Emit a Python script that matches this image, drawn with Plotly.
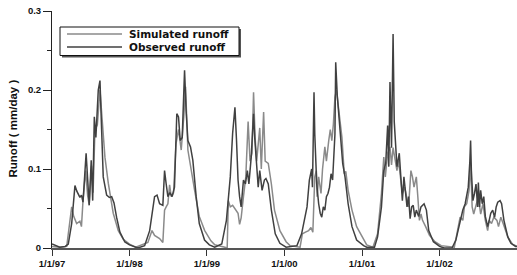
import numpy as np
import pandas as pd
import plotly.graph_objects as go

# ---- data (time as years since 1/1/97, runoff in mm/day) ----
obs_t = [0.0, 0.04, 0.1, 0.17, 0.21, 0.254, 0.296, 0.32, 0.34, 0.36, 0.38, 0.40, 0.44, 0.455, 0.48,
         0.506, 0.525, 0.546, 0.566, 0.597, 0.619, 0.64, 0.661, 0.705, 0.74, 0.77, 0.8, 0.833, 0.876,
         0.94, 1.0,
         1.108, 1.195, 1.26, 1.323, 1.355, 1.388, 1.43, 1.452, 1.473, 1.495, 1.52, 1.55, 1.58, 1.61,
         1.632, 1.654, 1.68, 1.71, 1.73, 1.753, 1.787, 1.817, 1.86, 1.9, 1.968, 2.03,
         2.1, 2.19, 2.25, 2.3, 2.33, 2.36, 2.38, 2.4, 2.42, 2.44, 2.47, 2.495, 2.52, 2.54, 2.57, 2.6,
         2.615, 2.64, 2.66, 2.68, 2.71, 2.74, 2.76, 2.79, 2.83, 2.88, 2.94, 3.02,
         3.16, 3.22, 3.29, 3.32, 3.35, 3.36, 3.38, 3.39, 3.415, 3.44, 3.46, 3.48, 3.5, 3.52, 3.54,
         3.56, 3.58, 3.6, 3.62, 3.65, 3.66, 3.68, 3.7, 3.72, 3.75, 3.78, 3.82, 3.87, 3.93, 4.02,
         4.06, 4.16, 4.2, 4.25, 4.28, 4.305, 4.33, 4.345, 4.36, 4.38, 4.4, 4.415, 4.43, 4.45, 4.48,
         4.5, 4.52, 4.54, 4.56, 4.58, 4.6, 4.62, 4.64, 4.66, 4.68, 4.70, 4.73, 4.76, 4.8, 4.83,
         4.86, 4.92, 5.0,
         5.06, 5.16, 5.21, 5.25, 5.3, 5.33, 5.35, 5.37, 5.39, 5.40, 5.41, 5.43, 5.45, 5.47, 5.49,
         5.5, 5.515, 5.53, 5.55, 5.57, 5.59, 5.62, 5.64, 5.66, 5.685, 5.71, 5.73, 5.75, 5.78, 5.8,
         5.83, 5.88, 5.92, 5.98, 6.0]
obs_v = [0.005, 0.003, 0.001, 0.002, 0.005, 0.031, 0.079, 0.072, 0.067, 0.064, 0.067, 0.058, 0.12, 0.098, 0.054,
         0.111, 0.06, 0.166, 0.14, 0.2, 0.212, 0.15, 0.09, 0.067, 0.064, 0.065, 0.057, 0.039, 0.02,
         0.0076, 0.004,
         0.0, 0.003, 0.022, 0.065, 0.067, 0.056, 0.054, 0.098, 0.081, 0.065, 0.07, 0.065, 0.077, 0.17,
         0.166, 0.136, 0.14, 0.225, 0.174, 0.136, 0.128, 0.111, 0.065, 0.031, 0.01, 0.004,
         0.001, 0.005, 0.035, 0.09, 0.145, 0.178, 0.137, 0.086, 0.065, 0.052, 0.086, 0.081, 0.098, 0.081, 0.115, 0.17,
         0.14, 0.1, 0.077, 0.098, 0.073, 0.086, 0.088, 0.081, 0.048, 0.018, 0.006, 0.001,
         0.003, 0.018, 0.052, 0.086, 0.1, 0.077, 0.197, 0.144, 0.081, 0.056, 0.044, 0.039, 0.052, 0.048, 0.065,
         0.069, 0.077, 0.094, 0.086, 0.144, 0.235, 0.193, 0.165, 0.14, 0.107, 0.09, 0.056, 0.027, 0.01, 0.003,
         0.001, 0.001, 0.014, 0.052, 0.098, 0.107, 0.155, 0.103, 0.21, 0.127, 0.271, 0.16, 0.127, 0.103, 0.12,
         0.09, 0.06, 0.09, 0.068, 0.052, 0.065, 0.037, 0.052, 0.054, 0.039, 0.048, 0.04, 0.052, 0.056, 0.048,
         0.022, 0.008, 0.002,
         0.0, 0.0, 0.01, 0.027, 0.048, 0.056, 0.065, 0.077, 0.109, 0.136, 0.098, 0.06, 0.069, 0.081, 0.052,
         0.083, 0.052, 0.073, 0.056, 0.065, 0.04, 0.027, 0.035, 0.044, 0.048, 0.039, 0.052, 0.058, 0.06, 0.056,
         0.035, 0.014, 0.006, 0.002, 0.002]

sim_t = [0.0, 0.1, 0.19, 0.21, 0.254, 0.28, 0.318, 0.36, 0.38, 0.40, 0.434, 0.46, 0.48, 0.51, 0.53,
         0.554, 0.585, 0.619, 0.64, 0.683, 0.726, 0.79, 0.855, 0.92, 1.0,
         1.08, 1.237, 1.29, 1.323, 1.388, 1.43, 1.452, 1.473, 1.495, 1.517, 1.538, 1.568, 1.6, 1.632,
         1.667, 1.7, 1.723, 1.753, 1.787, 1.84, 1.9, 1.97, 2.05,
         2.1, 2.23, 2.26, 2.275, 2.3, 2.33, 2.36, 2.4, 2.42, 2.44, 2.47, 2.5, 2.53, 2.555, 2.58, 2.6,
         2.62, 2.64, 2.68, 2.70, 2.73, 2.75, 2.79, 2.83, 2.87, 2.94, 3.02,
         3.07, 3.2, 3.23, 3.27, 3.31, 3.34, 3.365, 3.39, 3.41, 3.42, 3.44, 3.47, 3.49, 3.52, 3.54, 3.57,
         3.59, 3.61, 3.63, 3.65, 3.67, 3.7, 3.74, 3.77, 3.79, 3.82, 3.87, 3.93, 4.02,
         4.06, 4.14, 4.2, 4.25, 4.28, 4.3, 4.33, 4.36, 4.38, 4.4, 4.42, 4.45, 4.47, 4.5, 4.52, 4.55,
         4.58, 4.6, 4.63, 4.65, 4.67, 4.7, 4.72, 4.74, 4.76, 4.78, 4.82, 4.87, 4.94, 5.02,
         5.19, 5.23, 5.265, 5.3, 5.32, 5.35, 5.38, 5.4, 5.42, 5.44, 5.47, 5.5, 5.53, 5.56, 5.59, 5.62,
         5.64, 5.67, 5.70, 5.74, 5.76, 5.79, 5.82, 5.88, 5.94, 6.0]
sim_v = [0.002, 0.001, 0.002, 0.018, 0.052, 0.04, 0.031, 0.034, 0.027, 0.06, 0.098, 0.066, 0.055, 0.104, 0.07,
         0.149, 0.156, 0.2, 0.17, 0.115, 0.082, 0.044, 0.022, 0.011, 0.005,
         0.001, 0.007, 0.022, 0.016, 0.012, 0.007, 0.048, 0.052, 0.056, 0.08, 0.065, 0.07, 0.132, 0.15,
         0.124, 0.166, 0.204, 0.124, 0.106, 0.073, 0.04, 0.022, 0.009,
         0.004, 0.001, 0.0, 0.06, 0.052, 0.054, 0.05, 0.044, 0.03, 0.038, 0.065, 0.09, 0.16, 0.11, 0.12, 0.197,
         0.14, 0.11, 0.152, 0.1, 0.172, 0.11, 0.107, 0.081, 0.048, 0.022, 0.008,
         0.003, 0.001, 0.018, 0.02, 0.022, 0.026, 0.02, 0.09, 0.098, 0.065, 0.09, 0.069, 0.1, 0.128, 0.11, 0.136,
         0.15, 0.136, 0.157, 0.191, 0.2, 0.174, 0.14, 0.094, 0.097, 0.073, 0.048, 0.027, 0.01,
         0.004, 0.001, 0.018, 0.069, 0.115, 0.09, 0.12, 0.128, 0.105, 0.127, 0.115, 0.098, 0.111, 0.081, 0.069, 0.077,
         0.06, 0.052, 0.098, 0.09, 0.077, 0.09, 0.064, 0.035, 0.043, 0.035, 0.027, 0.016, 0.008, 0.003,
         0.001, 0.022, 0.039, 0.035, 0.052, 0.056, 0.073, 0.107, 0.052, 0.043, 0.056, 0.065, 0.043, 0.056, 0.035, 0.022,
         0.035, 0.031, 0.039, 0.035, 0.027, 0.039, 0.031, 0.014, 0.005, 0.002]

tick_dates = ["1997-01-01", "1998-01-01", "1999-01-01", "2000-01-01", "2001-01-01", "2002-01-01"]
tick_text = ["1/1/97", "1/1/98", "1/1/99", "1/1/00", "1/1/01", "1/1/02"]
y_ticks = [0, 0.1, 0.2, 0.3]
y_text = ["0", "0.1", "0.2", "0.3"]
series_names = ["Simulated runoff", "Observed runoff"]

base = pd.Timestamp("1997-01-01")
def to_dates(t):
    return base + pd.to_timedelta(np.array(t) * 365.25, unit="D")

SIM_C = "#8a8a8a"
OBS_C = "#404040"
W, H = 517, 275
L, R, T, B = 52, 0, 11, 27
PW, PH = W - L - R, H - T - B

def px(x):   # page pixel -> paper x
    return (x - L) / PW

def py(y):   # page pixel -> paper y
    return (H - B - y) / PH

fig = go.Figure()
fig.add_trace(go.Scatter(x=to_dates(sim_t), y=sim_v, mode="lines", name=series_names[0],
                         line=dict(color=SIM_C, width=1.5), showlegend=False, cliponaxis=False))
fig.add_trace(go.Scatter(x=to_dates(obs_t), y=obs_v, mode="lines", name=series_names[1],
                         line=dict(color=OBS_C, width=1.5), showlegend=False, cliponaxis=False))

FONT = "Liberation Sans, Arial, sans-serif"
fig.update_layout(
    width=W, height=H,
    margin=dict(l=L, r=R, t=T, b=B, autoexpand=False),
    plot_bgcolor="white", paper_bgcolor="white",
    font=dict(family=FONT, size=9.5, color="#111", weight="bold"),
    xaxis=dict(type="date", range=["1997-01-01", "2003-01-01"], tickvals=tick_dates, ticktext=tick_text,
               ticks="outside", ticklen=6, tickwidth=1, tickcolor="#333", showline=True, linecolor="#555",
               linewidth=1.5, showgrid=False, zeroline=False, ticklabeloverflow="allow",
               tickfont=dict(family=FONT, size=9.5, weight="bold")),
    yaxis=dict(range=[0, 0.3], tickvals=y_ticks, ticktext=y_text, ticks="outside", ticklen=8,
               tickwidth=1, tickcolor="#222", showline=True, linecolor="#222", linewidth=1,
               showgrid=False, zeroline=False, ticklabeloverflow="allow",
               minor=dict(dtick=0.05, ticks="outside", ticklen=4, tickcolor="#222", showgrid=False),
               tickfont=dict(family=FONT, size=9.5, weight="bold")),
)

# y-axis title
fig.add_annotation(text="Runoff ( mm/day )", xref="paper", yref="paper", x=px(12.5), y=py(129),
                   textangle=-90, showarrow=False, xanchor="center", yanchor="middle",
                   font=dict(family=FONT, size=11.5, weight="bold", color="#111"))

# legend box (drawn manually for the original's compact look)
bx0, bx1, by0, by1 = 60, 239, 27, 55.5
fig.add_shape(type="rect", xref="paper", yref="paper", x0=px(bx0 + 2), x1=px(bx1 + 2), y0=py(by1 + 2), y1=py(by0 + 2),
              fillcolor="#555", line=dict(width=0), layer="above")
fig.add_shape(type="rect", xref="paper", yref="paper", x0=px(bx0), x1=px(bx1), y0=py(by1), y1=py(by0),
              fillcolor="white", line=dict(color="#111", width=1), layer="above")
for name, col, yy in [(series_names[0], SIM_C, 34), (series_names[1], OBS_C, 47)]:
    fig.add_shape(type="line", xref="paper", yref="paper", x0=px(67), x1=px(122), y0=py(yy), y1=py(yy),
                  line=dict(color=col, width=1.5), layer="above")
    fig.add_annotation(text=name, xref="paper", yref="paper", x=px(127), y=py(yy), showarrow=False,
                       xanchor="left", yanchor="middle",
                       font=dict(family="DejaVu Sans, sans-serif", size=10.5, weight="bold", color="#111"))

fig.write_html("out.html", config={"displayModeBar": False},
               post_script="document.body.style.margin='0px';document.body.style.overflow='hidden';")
